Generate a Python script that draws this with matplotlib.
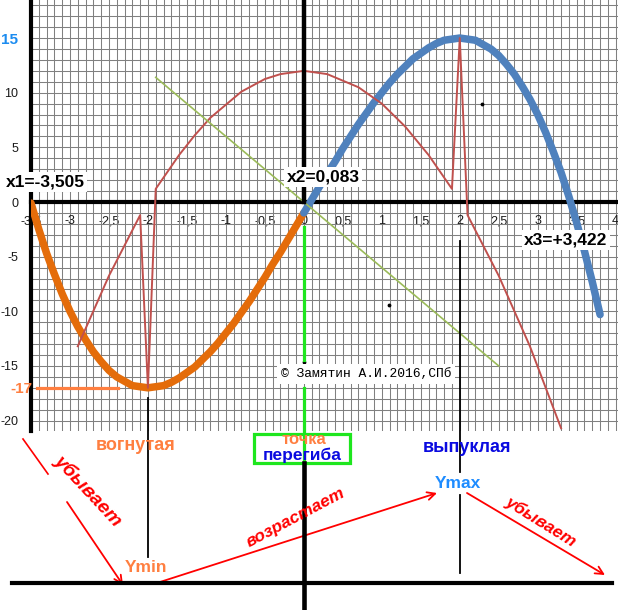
import matplotlib.pyplot as plt
from matplotlib.ticker import MultipleLocator
from matplotlib.patches import Rectangle, FancyArrowPatch
from matplotlib.transforms import blended_transform_factory

plt.rcParams['font.family'] = ['Liberation Sans', 'DejaVu Sans']

# --- data ---
orange_x = [-3.5, -3.4, -3.3, -3.2, -3.1, -3.0, -2.9, -2.8, -2.7, -2.6, -2.5, -2.4,
            -2.3, -2.2, -2.1, -2.0, -1.9, -1.8, -1.7, -1.6, -1.5, -1.4, -1.3, -1.2,
            -1.1, -1.0, -0.9, -0.8, -0.7, -0.6, -0.5, -0.4, -0.3, -0.2, -0.1, 0.0]
orange_y = [-0.1, -2.5, -4.7, -6.6, -8.4, -10.0, -11.4, -12.6, -13.7, -14.6, -15.4, -16.0,
            -16.4, -16.8, -16.9, -17.0, -16.9, -16.8, -16.5, -16.1, -15.6, -15.1, -14.4, -13.7,
            -12.9, -12.0, -11.1, -10.1, -9.1, -8.0, -6.9, -5.7, -4.6, -3.4, -2.2, -1.0]

blue_x = [0.0, 0.1, 0.2, 0.3, 0.4, 0.5, 0.6, 0.7, 0.8, 0.9, 1.0, 1.1, 1.2, 1.3,
          1.4, 1.5, 1.6, 1.7, 1.8, 1.9, 2.0, 2.1, 2.2, 2.3, 2.4, 2.5, 2.6, 2.7,
          2.8, 2.9, 3.0, 3.1, 3.2, 3.3, 3.4, 3.5, 3.6, 3.7, 3.8]
blue_y = [-1.0, 0.2, 1.4, 2.6, 3.7, 4.9, 6.0, 7.1, 8.1, 9.1, 10.0, 10.9, 11.7, 12.4,
          13.1, 13.6, 14.1, 14.5, 14.8, 14.9, 15.0, 14.9, 14.8, 14.4, 14.0, 13.4, 12.6, 11.7,
          10.6, 9.4, 8.0, 6.4, 4.6, 2.7, 0.5, -1.9, -4.5, -7.3, -10.3]

red_x = [-2.9, -2.5, -2.1, -2.0, -1.9, -1.6, -1.4, -1.2, -0.8, -0.5, -0.3, 0.0,
         0.3, 0.7, 1.0, 1.3, 1.6, 1.9, 2.0, 2.1, 2.5, 2.9, 3.3]
red_y = [-13.2, -6.75, -1.2, -17.0, 1.2, 4.3, 6.1, 7.7, 10.1, 11.25, 11.7, 12.0,
         11.7, 10.5, 9.0, 6.9, 4.3, 1.2, 15.0, -1.2, -6.75, -13.2, -20.7]

green_x = [-1.9, 2.5]
green_y = [11.4, -15.0]

dot_x = [2.29, 1.09, 0.0]
dot_y = [9.0, -9.4, -14.6]

x_ticks = [-3.5, -3, -2.5, -2, -1.5, -1, -0.5, 0, 0.5, 1, 1.5, 2, 2.5, 3, 3.5, 4]
x_labels = ['-3,5', '-3', '-2,5', '-2', '-1,5', '-1', '-0,5', '0', '0,5', '1',
            '1,5', '2', '2,5', '3', '3,5', '4']
y_ticks = [-20, -15, -10, -5, 0, 5, 10, 15]
y_labels = ['-20', '-15', '-10', '-5', '0', '5', '10', '15']

roots = ['x1=-3,505', 'x2=0,083', 'x3=+3,422']
y_min_label = '-17'

W, H = 618, 610
fig = plt.figure(figsize=(W / 100, H / 100), dpi=100)
fig.set_facecolor('white')

ax = fig.add_axes([31 / W, (H - 431) / H, (W - 31) / W, 431 / H])
ax.set_xlim(-3.5, 4.03)
ax.set_ylim(-20.95, 18.48)
ax.set_axisbelow(True)

ax.set_xticks(x_ticks, x_labels)
ax.set_yticks(y_ticks, y_labels)
ax.xaxis.set_minor_locator(MultipleLocator(0.1))
ax.yaxis.set_minor_locator(MultipleLocator(1))
ax.grid(which='both', color='#808080', lw=0.75)
ax.tick_params(which='both', length=0)
ax.tick_params(axis='x', pad=9.5, labelsize=9, labelcolor='#1a1a1a')
ax.tick_params(axis='y', pad=9, labelsize=9, labelcolor='#1a1a1a')
for s in ['top', 'right']:
    ax.spines[s].set_visible(False)
ax.spines['bottom'].set_position(('data', 0))
ax.spines['bottom'].set_linewidth(3)
ax.spines['left'].set_linewidth(3)
ax.spines['bottom'].set_zorder(2.5)

lbl15 = ax.get_yticklabels()[-1]
lbl15.set_color('#1c8cf0')
lbl15.set_fontweight('bold')
lbl15.set_fontsize(11)

ax.plot(orange_x, orange_y, color='#E46C0A', lw=5.4, solid_capstyle='round', zorder=3)
ax.plot(blue_x, blue_y, color='#4F81BD', lw=5.4, solid_capstyle='round', zorder=3)
ax.plot(red_x, red_y, color='#C0504D', lw=1.4, zorder=3.2)
ax.plot(green_x, green_y, color='#9BBB59', lw=1.2, zorder=3.3)
ax.plot(dot_x, dot_y, 'k.', ms=3.5, zorder=4)

# -17 marker
ax.plot([-3.42, -2.38], [-17, -17], color='#FF7F40', lw=2.3, zorder=4)

# overlay in pixel coordinates
ov = fig.add_axes([0, 0, 1, 1])
ov.set_xlim(0, W)
ov.set_ylim(H, 0)
ov.axis('off')
ov.patch.set_alpha(0)
bt = blended_transform_factory(ax.transData, ov.transData)

ov.text(21, 389, y_min_label, color='#FF7F40', fontsize=11, fontweight='bold',
        ha='center', va='center')

box = dict(facecolor='white', edgecolor='none', pad=1.5)
ov.text(45, 182, roots[0], fontsize=12.5, fontweight='bold', ha='center', va='center', bbox=box)
ov.text(323, 177, roots[1], fontsize=12.5, fontweight='bold', ha='center', va='center', bbox=box)
ov.text(566, 240, roots[2], fontsize=12.5, fontweight='bold', ha='center', va='center', bbox=box)
ov.text(281, 374, '© Замятин А.И.2016,СПб', family='Liberation Mono', fontsize=9.4,
        ha='left', va='center', bbox=dict(facecolor='white', edgecolor='none', pad=2.5))

# vertical guide lines
ov.plot([0, 0], [0, 202], color='black', lw=3.2, transform=bt)
ov.plot([0, 0], [227, 360], color='#1EE61E', lw=2.3, transform=bt)
ov.plot([0, 0], [388, 463], color='#1EE61E', lw=2.3, transform=bt)
ov.plot([0, 0], [463, 610], color='black', lw=3.3, transform=bt)
ov.plot([-2, -2], [398, 557], color='black', lw=1.3, transform=bt)
ov.plot([2, 2], [241, 472], color='black', lw=1.3, transform=bt)
ov.plot([2, 2], [495, 573], color='black', lw=1.3, transform=bt)

# bottom schematic axis
ov.plot([12, 612], [583, 583], color='black', lw=3)

ov.add_patch(Rectangle((254, 434), 96, 29, fill=False, edgecolor='#1EE61E', lw=2.3))

orange_t = '#FF7F40'
blue_t = '#0A0AE0'
red_t = '#FF0000'
ov.text(136, 445, 'вогнутая', color=orange_t, fontsize=13, fontweight='bold', ha='center', va='center')
ov.text(304, 440, 'точка', color=orange_t, fontsize=12, fontweight='bold', ha='center', va='center')
ov.text(302, 455, 'перегиба', color=blue_t, fontsize=12.5, fontweight='bold', ha='center', va='center')
ov.text(467, 447, 'выпуклая', color=blue_t, fontsize=13, fontweight='bold', ha='center', va='center')
ov.text(458, 483, 'Ymax', color='#1E8CFF', fontsize=12.5, fontweight='bold', ha='center', va='center')
ov.text(146, 568, 'Ymin', color=orange_t, fontsize=12.5, fontweight='bold', ha='center', va='center')

ov.text(88, 491, 'убывает', color=red_t, fontsize=14, fontweight='bold', style='italic',
        rotation=-47, ha='center', va='center', rotation_mode='anchor')
ov.text(296, 518, 'возрастает', color=red_t, fontsize=12.5, fontweight='bold', style='italic',
        rotation=28, ha='center', va='center', rotation_mode='anchor')
ov.text(541, 522, 'убывает', color=red_t, fontsize=12.5, fontweight='bold', style='italic',
        rotation=-32, ha='center', va='center', rotation_mode='anchor')

ov.plot([23, 48], [439, 474], color=red_t, lw=1.2)
for a, b in [((67, 502), (123, 585)), ((160, 582), (437, 493)), ((467, 493), (605, 575))]:
    ov.add_patch(FancyArrowPatch(a, b, arrowstyle='->', mutation_scale=14, color=red_t,
                                 lw=1.3, shrinkA=0, shrinkB=0))

fig.savefig('out.png', dpi=100, facecolor='white')
